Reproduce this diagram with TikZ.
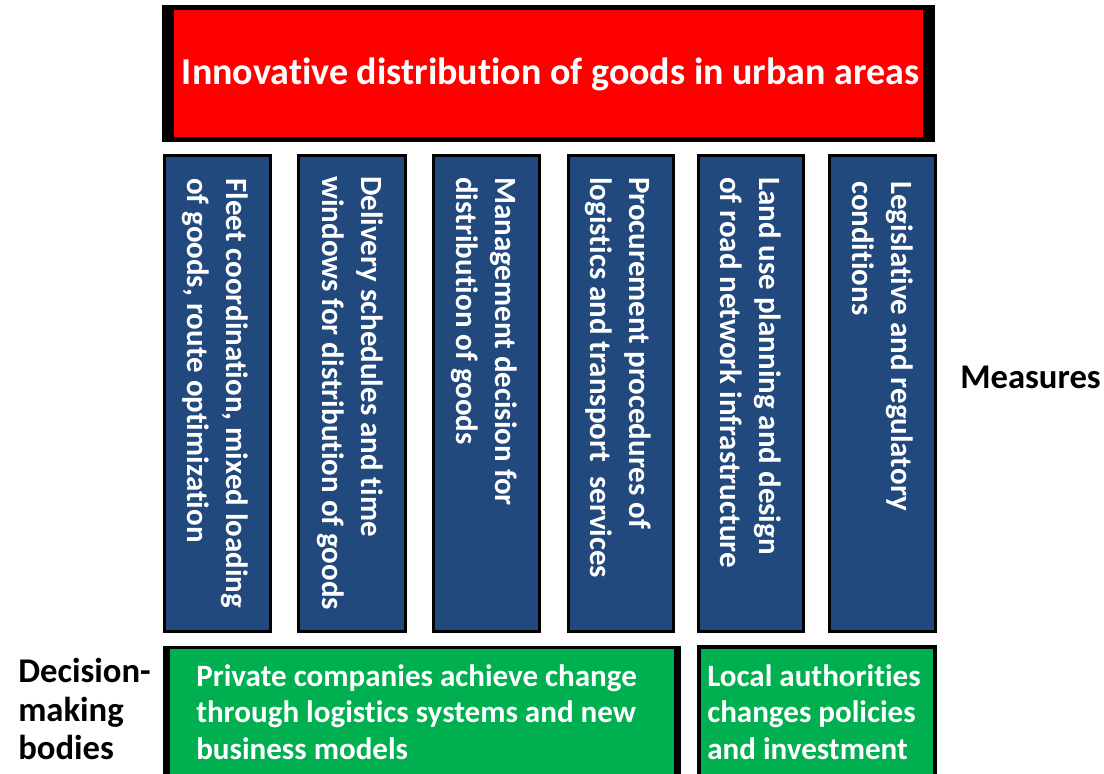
\documentclass[tikz,border=0pt]{standalone}
\usepackage{fontspec}
\setmainfont{Carlito}[Ligatures=NoCommon]
\definecolor{titlered}{RGB}{255,0,0}
\definecolor{measureblue}{RGB}{33,73,125}
\definecolor{bodygreen}{RGB}{0,176,80}

\begin{document}
\begin{tikzpicture}[x=0.75pt,y=0.75pt,yscale=-1,xscale=1,
  measurebox/.style={draw=black,line width=2.25pt,fill=measureblue},
  measuretext/.style={text=white,font=\fontsize{23.2}{29.25}\selectfont\bfseries,align=left,inner sep=0pt,rotate=-90,anchor=north west},
  bodytext/.style={text=white,font=\fontsize{23.3}{27.4}\selectfont\bfseries,align=left,inner sep=0pt,anchor=north west},
  sidelabel/.style={text=black,font=\fontsize{26}{29}\selectfont\bfseries,align=left,inner sep=0pt}]
\useasboundingbox (0,0) rectangle (1104,774);

%Shape: Rectangle (title)
\fill [black] (162,5) rectangle (935,142) ;
\fill [titlered] (174,10) rectangle (923,137) ;
% Text Node
\draw (550.5,85) node [anchor=base,inner sep=0pt,text=white,font=\fontsize{28.5}{33}\selectfont\bfseries] (title) {Innovative distribution of goods in urban areas};

%Shape: Rectangle (measures)
\draw [measurebox] (164.5,155.5) rectangle (270.5,631.5) ;
\draw [measurebox] (298.5,155.5) rectangle (405.5,631.5) ;
\draw [measurebox] (433.5,155.5) rectangle (539.5,631.5) ;
\draw [measurebox] (568.5,155.5) rectangle (673.5,631.5) ;
\draw [measurebox] (698.5,155.5) rectangle (803.5,631.5) ;
\draw [measurebox] (829.5,155.5) rectangle (935.5,631.5) ;

% Text Node
\draw (248,178) node [measuretext] (fleet) {Fleet coordination, mixed loading\\of goods, route optimization};
% Text Node
\draw (383,176) node [measuretext] (delivery) {Delivery schedules and time\\windows for distribution of goods};
% Text Node
\draw (517,177) node [measuretext] (management) {Management decision for\\distribution of goods};
% Text Node
\draw (651,177) node [measuretext] (procurement) {Procurement procedures of\\logistics and transport \ services};
% Text Node
\draw (781,177) node [measuretext] (landuse) {Land use planning and design\\of road network infrastructure};
% Text Node
\draw (913,181) node [measuretext] (legislative) {Legislative and regulatory\\conditions};

% Text Node
\draw (960,388) node [sidelabel,anchor=base west] (measures) {Measures};

%Shape: Rectangle (decision-making bodies)
\fill [black] (163,646) rectangle (681,774) ;
\fill [bodygreen] (170,649) rectangle (674,774) ;
\fill [black] (697,645) rectangle (937,774) ;
\fill [bodygreen] (701,649) rectangle (933,774) ;

% Text Node
\draw (196,664) node [bodytext] (private) {Private companies achieve change\\through logistics systems and new\\business models};
% Text Node
\draw (707,664) node [bodytext] (local) {Local authorities\\changes policies\\and investment};

% Text Node
\draw (18,658) node [sidelabel,anchor=north west] (bodies) {Decision-\\making\\bodies};

\end{tikzpicture}
\end{document}
